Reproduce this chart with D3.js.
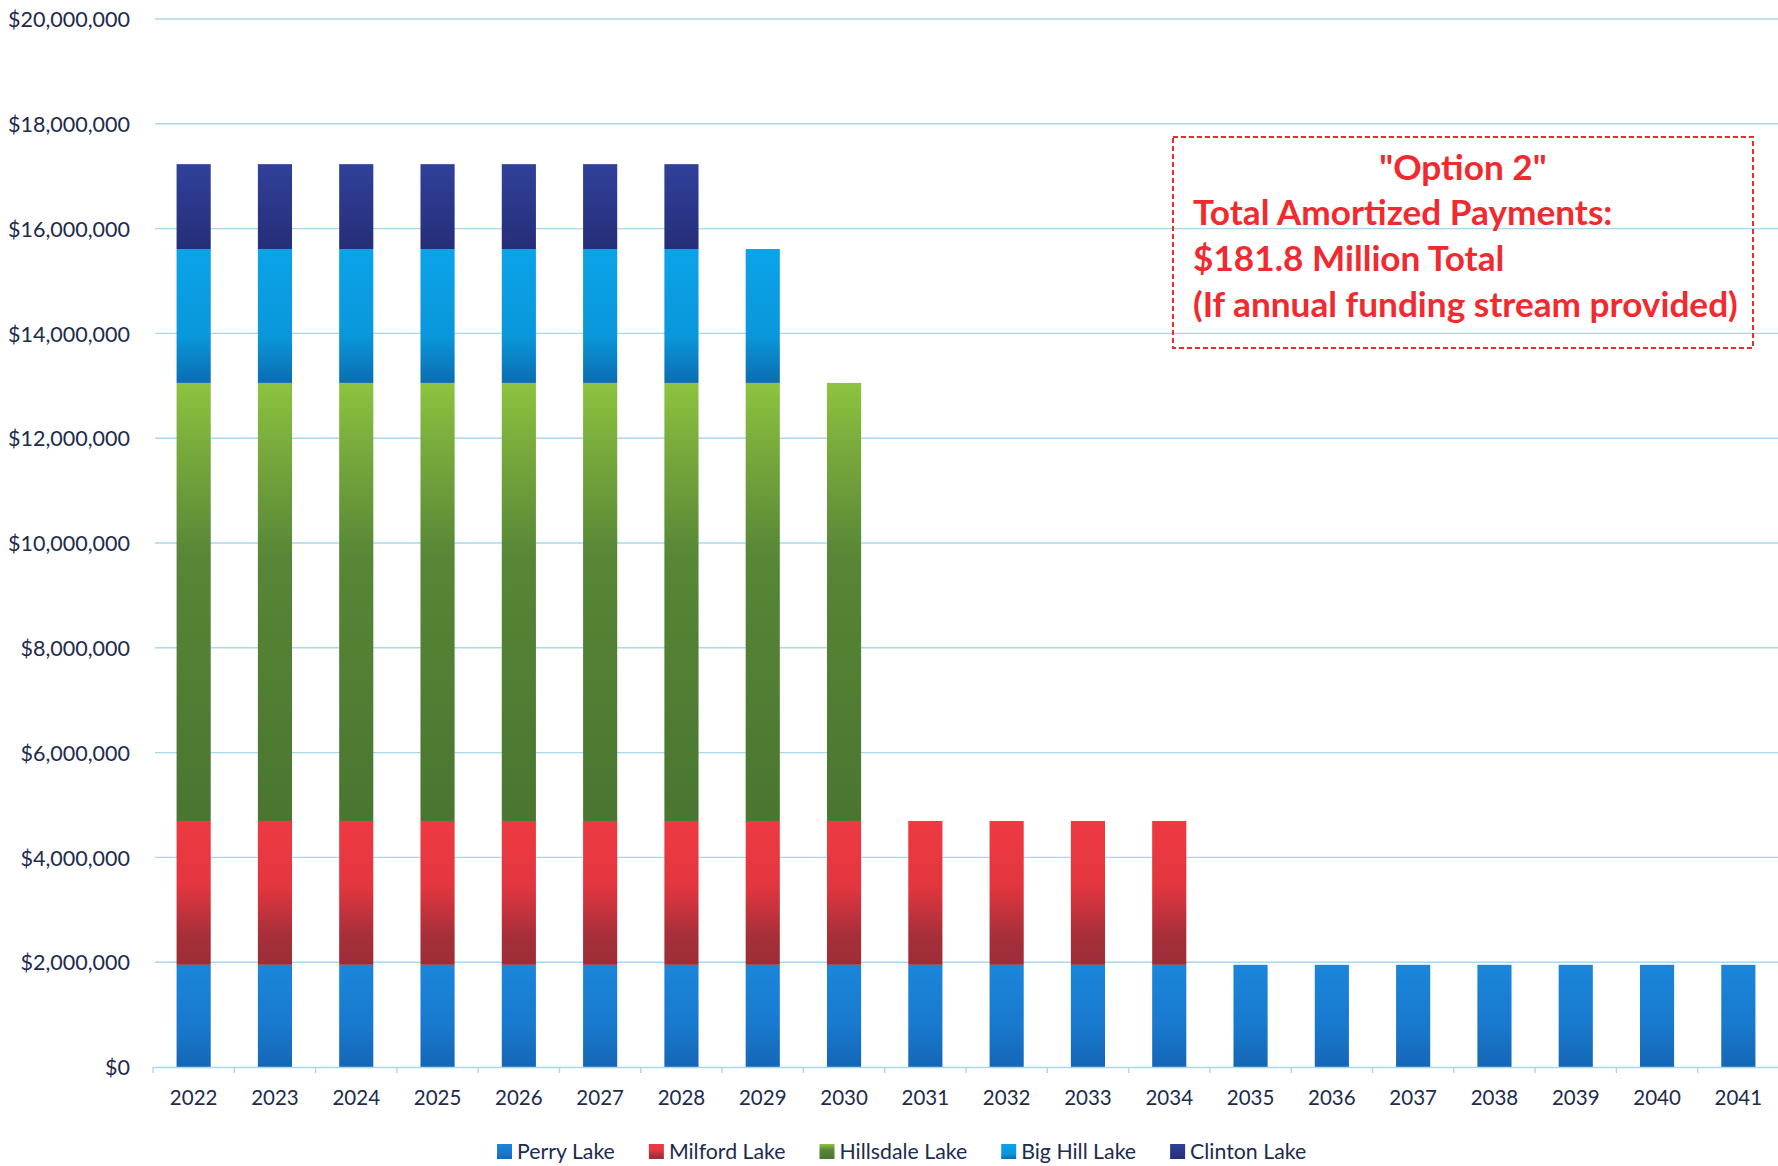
<!DOCTYPE html>
<html>
<head>
<meta charset="utf-8">
<script src="https://cdn.jsdelivr.net/npm/d3@7"></script>
<style>
  html, body { margin: 0; padding: 0; background: #ffffff; }
  svg { display: block; }
</style>
</head>
<body>
<svg id="chart" width="1778" height="1166"></svg>
<script>
// ---------------- DATA ----------------
const years = ["2022","2023","2024","2025","2026","2027","2028","2029","2030","2031",
               "2032","2033","2034","2035","2036","2037","2038","2039","2040","2041"];
const perryLake     = [1950000,1950000,1950000,1950000,1950000,1950000,1950000,1950000,1950000,1950000,
                       1950000,1950000,1950000,1950000,1950000,1950000,1950000,1950000,1950000,1950000];
const milfordLake   = [2745000,2745000,2745000,2745000,2745000,2745000,2745000,2745000,2745000,2745000,
                       2745000,2745000,2745000,0,0,0,0,0,0,0];
const hillsdaleLake = [8360000,8360000,8360000,8360000,8360000,8360000,8360000,8360000,8360000,0,
                       0,0,0,0,0,0,0,0,0,0];
const bigHillLake   = [2555000,2555000,2555000,2555000,2555000,2555000,2555000,2555000,0,0,
                       0,0,0,0,0,0,0,0,0,0];
const clintonLake   = [1620000,1620000,1620000,1620000,1620000,1620000,1620000,0,0,0,
                       0,0,0,0,0,0,0,0,0,0];
const seriesNames = ["Perry Lake","Milford Lake","Hillsdale Lake","Big Hill Lake","Clinton Lake"];
const seriesValues = [perryLake, milfordLake, hillsdaleLake, bigHillLake, clintonLake];
const yTicks = [0,2000000,4000000,6000000,8000000,10000000,12000000,14000000,16000000,18000000,20000000];
const noteLines = ["\"Option 2\"", "Total Amortized Payments:", "$181.8 Million Total", "(If annual funding stream provided)"];

// ---------------- STYLE ----------------
const gradStops = [
  [[0,"#1b86da"],[0.6,"#1879cd"],[1,"#1566b6"]],
  [[0,"#ee3a42"],[0.45,"#e3363f"],[0.8,"#a62f39"],[1,"#9c2d37"]],
  [[0,"#8cc43f"],[0.15,"#78aa3c"],[0.4,"#578636"],[1,"#4a7630"]],
  [[0,"#0ba3e8"],[0.65,"#0a97db"],[1,"#0b6db0"]],
  [[0,"#30409a"],[1,"#252e78"]]
];
const textColor = "#1d2b4d";
const gridColor = "#a9d8ee";
const fontFam = "Lato, 'Open Sans', sans-serif";

const svg = d3.select("#chart");
const defs = svg.append("defs");
gradStops.forEach((stops, i) => {
  const g = defs.append("linearGradient").attr("id", "g" + i)
    .attr("x1", 0).attr("y1", 0).attr("x2", 0).attr("y2", 1);
  stops.forEach(s => g.append("stop").attr("offset", s[0]).attr("stop-color", s[1]));
});

const x = d3.scaleBand().domain(years).range([153, 1779]).padding(0);
const y = d3.scaleLinear().domain([0, 20000000]).range([1067, 19]);

// gridlines
svg.append("g").selectAll("line").data(yTicks.filter(t => t > 0)).join("line")
  .attr("x1", 155).attr("x2", 1778)
  .attr("y1", d => y(d)).attr("y2", d => y(d))
  .attr("stroke", gridColor).attr("stroke-width", 1.4);

// y axis labels
const yAxis = d3.axisLeft(y).tickValues(yTicks).tickSize(0).tickPadding(0)
  .tickFormat(d => "$" + d3.format(",")(d));
const yg = svg.append("g").attr("transform", "translate(130,0)").call(yAxis);
yg.select(".domain").remove();
yg.selectAll("text").attr("fill", textColor).attr("font-family", fontFam)
  .attr("font-size", 21.5).attr("dy", "0.36em");

// stacked bars
const table = years.map((yr, i) => {
  const o = { year: yr };
  seriesNames.forEach((n, k) => o[n] = seriesValues[k][i]);
  return o;
});
const stack = d3.stack().keys(seriesNames)(table);
const barW = x.bandwidth() * 0.42;
svg.append("g").selectAll("g").data(stack).join("g")
  .attr("fill", (d, i) => "url(#g" + i + ")")
  .selectAll("rect").data(d => d.filter(p => p[1] - p[0] > 0)).join("rect")
  .attr("x", d => x(d.data.year) + (x.bandwidth() - barW) / 2)
  .attr("width", barW)
  .attr("y", d => y(d[1]))
  .attr("height", d => y(d[0]) - y(d[1]));

// x axis
const xAxis = d3.axisBottom(x).tickSize(0).tickPadding(0);
const xg = svg.append("g").attr("transform", "translate(0," + y(0) + ")").call(xAxis);
xg.select(".domain").attr("stroke", gridColor).attr("stroke-width", 1.4);
xg.selectAll("text").attr("fill", textColor).attr("font-family", fontFam)
  .attr("font-size", 20.5).attr("y", 38).attr("dy", 0);
// boundary ticks
svg.append("g").selectAll("line").data(d3.range(years.length + 1)).join("line")
  .attr("x1", i => x.range()[0] + i * x.step()).attr("x2", i => x.range()[0] + i * x.step())
  .attr("y1", y(0)).attr("y2", y(0) + 6)
  .attr("stroke", gridColor).attr("stroke-width", 1.4);

// legend
const lg = svg.append("g").attr("font-family", fontFam).attr("font-size", 21.3).attr("fill", textColor);
let lx = 497;
seriesNames.forEach((n, i) => {
  lg.append("rect").attr("x", lx).attr("y", 1144).attr("width", 15).attr("height", 15)
    .attr("fill", "url(#g" + i + ")");
  const t = lg.append("text").attr("x", lx + 20).attr("y", 1159).text(n);
  lx += 20 + t.node().getComputedTextLength() + 34;
});

// annotation box
const box = { x0: 1173, y0: 137, x1: 1753, y1: 348 };
svg.append("rect").attr("x", box.x0).attr("y", box.y0)
  .attr("width", box.x1 - box.x0).attr("height", box.y1 - box.y0)
  .attr("fill", "none").attr("stroke", "#ee2a2a").attr("stroke-width", 2)
  .attr("stroke-dasharray", "5,3");
const ng = svg.append("g").attr("font-family", fontFam).attr("font-weight", 700).attr("fill", "#f02a2e");
const baselines = [180, 225, 271, 317];
const probe = ng.append("text").attr("font-size", 100).text(noteLines[3]);
const fs = 100 * 545 / probe.node().getComputedTextLength();
probe.remove();
noteLines.forEach((t, i) => {
  ng.append("text")
    .attr("x", i === 0 ? (box.x0 + box.x1) / 2 : 1193)
    .attr("text-anchor", i === 0 ? "middle" : "start")
    .attr("y", baselines[i]).attr("font-size", fs).text(t);
});
</script>
</body>
</html>
